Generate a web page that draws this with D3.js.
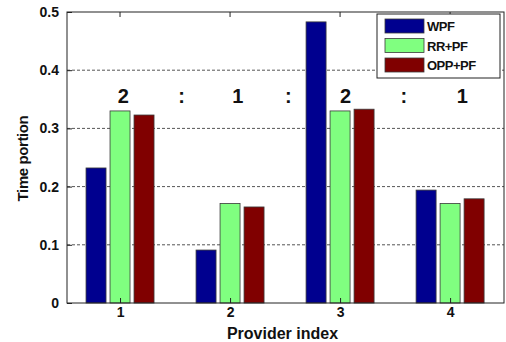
<!DOCTYPE html>
<html><head><meta charset="utf-8">
<script src="https://cdn.jsdelivr.net/npm/d3@7"></script>
<style>body{margin:0;background:#fff}svg{display:block}text{font-family:"Liberation Sans",Arial,sans-serif}</style>
</head><body>
<script>
const categories = ["1","2","3","4"];
const seriesNames = ["WPF","RR+PF","OPP+PF"];
const wpf = [0.232, 0.091, 0.483, 0.194];
const rrpf = [0.330, 0.171, 0.330, 0.171];
const opppf = [0.323, 0.165, 0.333, 0.179];
const colors = ["#00008F","#80FF80","#800000"];
const yTicks = [0, 0.1, 0.2, 0.3, 0.4, 0.5];
const ratioLabels = ["2",":","1",":","2",":","1"];

const W = 506, H = 342;
const m = {left:67, right:2, top:12, bottom:39};
const svg = d3.select("body").append("svg").attr("width",W).attr("height",H);
const pw = W - m.left - m.right, ph = H - m.top - m.bottom;
const g = svg.append("g").attr("transform",`translate(${m.left},${m.top})`);

const x = d3.scaleLinear().domain([0.518, 4.49]).range([0, pw]);
const y = d3.scaleLinear().domain([0, 0.5]).range([ph, 0]);

// grid
g.selectAll(".grid").data(yTicks.filter(d=>d>0 && d<0.5)).join("line")
  .attr("x1",0).attr("x2",pw).attr("y1",d=>y(d)).attr("y2",d=>y(d))
  .attr("stroke","#555").attr("stroke-width",1).attr("stroke-dasharray","3,2");

const series = [wpf, rrpf, opppf];
const barW = 20, step = 24;
series.forEach((vals, si) => {
  g.selectAll(".b"+si).data(vals).join("rect")
    .attr("x",(d,i)=>x(i+1) + (si-1)*step - barW/2)
    .attr("y",d=>y(d)).attr("width",barW).attr("height",d=>y(0)-y(d))
    .attr("fill",colors[si]).attr("stroke","#3a3a3a").attr("stroke-width",0.8);
});

// axes box
g.append("rect").attr("x",0).attr("y",0).attr("width",pw).attr("height",ph)
  .attr("fill","none").attr("stroke","#222").attr("stroke-width",1);

const yAxis = g.append("g").call(d3.axisLeft(y).tickValues(yTicks).tickSize(-5).tickPadding(8).tickFormat(d=>d===0?"0":d3.format(".1f")(d)));
yAxis.select(".domain").remove();
yAxis.selectAll("text").attr("font-size",14).attr("font-weight","bold").attr("fill","#111");
yAxis.selectAll("line").attr("stroke","#222");

const xAxis = g.append("g").attr("transform",`translate(0,${ph})`)
  .call(d3.axisBottom(x).tickValues([1,2,3,4]).tickSize(-5).tickPadding(4).tickFormat(d=>categories[d-1]));
xAxis.select(".domain").remove();
xAxis.selectAll("text").attr("font-size",14).attr("font-weight","bold").attr("fill","#111");
xAxis.selectAll("line").attr("stroke","#222");

// top ticks
g.selectAll(".tt").data([1,2,3,4]).join("line")
  .attr("x1",d=>x(d)).attr("x2",d=>x(d)).attr("y1",0).attr("y2",5).attr("stroke","#222");

// ratio labels
const ratioX = [1.03, 1.56, 2.07, 2.53, 3.05, 3.58, 4.11];
g.selectAll(".ratio").data(ratioLabels).join("text")
  .attr("x",(d,i)=>x(ratioX[i])).attr("y",y(0.344))
  .attr("text-anchor","middle").attr("font-size",20).attr("font-weight","bold").attr("fill","#111")
  .text(d=>d);

// axis labels
svg.append("text").attr("x", m.left + pw/2 - 3).attr("y", 339).attr("text-anchor","middle")
  .attr("font-size",16).attr("font-weight","bold").attr("fill","#111").text("Provider index");
svg.append("text").attr("transform",`translate(28,${m.top+ph/2 + 1}) rotate(-90)`).attr("text-anchor","middle")
  .attr("font-size",15).attr("font-weight","bold").attr("fill","#111").attr("letter-spacing",-0.4).text("Time portion");

// legend
const lg = svg.append("g").attr("transform","translate(377,14)");
lg.append("rect").attr("width",123).attr("height",64).attr("fill","#fff").attr("stroke","#222");
seriesNames.forEach((n,i)=>{
  lg.append("rect").attr("x",8).attr("y",5+i*19.5).attr("width",39).attr("height",14)
    .attr("fill",colors[i]).attr("stroke","#3a3a3a").attr("stroke-width",0.8);
  lg.append("text").attr("x",50).attr("y",17+i*19.5).attr("font-size",13).attr("font-weight","bold")
    .attr("fill","#111").attr("letter-spacing",-0.5).text(n);
});
</script>
</body></html>
